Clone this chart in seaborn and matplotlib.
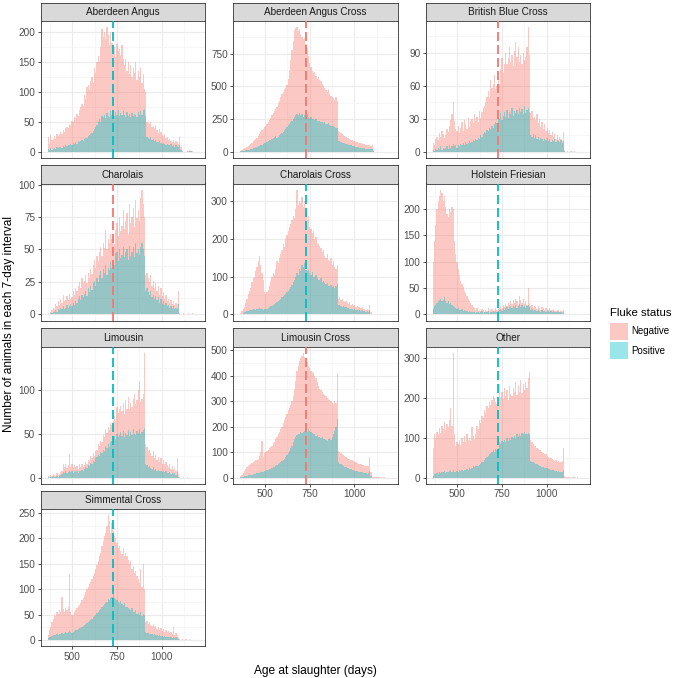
import matplotlib
matplotlib.use("Agg")
import matplotlib.pyplot as plt
from matplotlib.patches import Rectangle
from matplotlib.ticker import MultipleLocator
import numpy as np
import pandas as pd
import seaborn as sns

# ---------------- data ----------------
breeds = ["Aberdeen Angus", "Aberdeen Angus Cross", "British Blue Cross",
          "Charolais", "Charolais Cross", "Holstein Friesian",
          "Limousin", "Limousin Cross", "Other", "Simmental Cross"]
status_levels = ["Negative", "Positive"]
status_colors = ["#F8766D", "#00BFC4"]
bin_start = 361      # days
bin_width = 7        # days
n_bins = 120

neg_aa = [25,14,28,20,22,27,22,30,26,30,34,30,37,34,40,
          42,40,47,45,52,50,58,56,64,60,70,
          75,80,76,95,88,108,112,
          104,118,125,115,140,132,150,
          160,150,175,205,192,200,
          188,208,196,178,200,182,165,
          175,158,180,168,172,162,178,155,
          145,155,135,150,130,145,125,140,132,150,
          120,135,126,140,115,130,105,100,50,
          48,46,50,42,43,40,45,36,32,38,33,29,26,30,23,25,
          20,22,18,16,20,15,18,16,13,25,8,
          1,0,0,0,2,1,3,2,1,0,0,0,0]
pos_aa = [5,3,6,4,5,7,5,8,6,8,9,7,10,9,11,
          10,12,11,14,12,15,13,16,14,18,17,
          19,20,18,22,24,23,26,
          28,30,32,35,38,42,45,
          50,55,50,60,58,62,
          57,65,60,58,68,62,65,
          60,66,62,70,60,65,61,68,
          62,59,66,60,64,58,65,60,63,62,
          59,66,62,68,61,70,72,60,25,
          24,22,25,20,22,18,20,17,16,18,15,14,15,13,12,14,
          12,11,13,10,12,9,11,10,8,12,4,
          0,0,0,0,1,0,1,1,0,0,0,0,0]

neg_aac = [10,15,20,28,32,40,45,55,62,70,80,88,100,110,125,
           140,150,165,175,190,200,215,230,245,260,280,295,310,330,
           345,370,390,420,440,460,480,490,
           510,560,620,700,780,850,
           930,945,950,920,935,900,880,860,870,
           820,790,730,680,650,620,600,
           610,580,560,570,550,540,520,500,
           490,470,460,480,440,430,420,410,400,420,390,
           160,
           150,145,140,130,125,118,110,105,100,95,90,85,80,78,75,70,68,
           65,62,60,58,55,55,52,50,48,55,15,
           3,2,1,2,1,1,2,1,1,0,1,0,0]
pos_aac = [4,6,8,10,12,14,16,18,22,25,28,32,35,40,42,
           45,50,55,60,65,70,75,82,88,95,100,108,115,122,
           110,118,126,135,145,155,165,175,
           190,205,215,228,240,255,
           270,285,290,280,300,285,290,270,285,
           275,290,270,260,265,250,255,
           245,250,240,235,240,230,225,220,
           225,215,210,220,205,200,195,200,190,185,180,
           85,
           80,75,72,70,65,62,58,55,52,50,48,45,42,40,38,35,33,
           32,30,28,27,26,25,24,23,22,25,6,
           1,1,0,1,0,0,1,0,0,0,0,0,0]

neg_bbc = [8,6,12,14,11,17,14,19,16,13,
           15,21,18,24,29,34,45,28,21,19,24,
           17,22,27,19,29,25,21,31,23,28,
           30,26,34,28,32,27,37,31,36,40,42,
           45,50,55,50,65,58,62,70,57,60,
           68,62,75,85,72,80,
           90,80,85,95,82,88,78,92,100,
           86,95,82,88,80,90,83,86,95,113,88,
           35,
           37,31,32,29,34,26,30,23,27,21,25,19,22,17,20,15,18,
           14,16,12,15,11,14,12,10,18,
           2,0,1,0,0,1,0,0,1,0,0,0,0,0,0]
pos_bbc = [2,1,3,2,4,3,5,2,4,3,
           4,5,3,6,4,5,7,5,6,4,6,
           5,7,6,8,6,9,7,8,10,8,
           9,11,10,12,11,13,12,15,14,16,18,
           17,20,19,22,21,24,22,25,27,26,
           32,30,35,29,33,36,
           32,38,31,36,34,40,33,37,35,
           38,34,40,36,39,34,42,35,38,40,36,
           15,
           14,16,13,15,12,14,11,13,12,10,12,11,13,10,12,9,11,
           10,12,9,11,10,9,11,8,10,
           1,0,0,0,0,0,0,0,0,0,0,0,0,0,0]

neg_ch = [1,0,2,3,5,4,8,6,10,7,
          12,9,15,10,11,14,11,16,12,13,18,15,
          20,18,22,25,20,28,24,26,30,24,32,28,35,31,
          38,42,36,45,41,48,52,45,55,51,65,50,58,
          55,62,58,60,54,65,
          70,60,75,64,68,80,66,72,78,62,85,70,75,82,67,88,74,80,72,90,96,
          85,75,
          30,
          32,28,25,30,22,26,20,24,18,22,15,20,14,17,12,15,10,
          12,9,11,8,10,7,9,8,18,
          1,0,0,1,0,0,0,1,0,0,1,0,0,0,0]
pos_ch = [0,0,1,1,2,2,3,2,4,3,
          5,4,6,4,5,7,5,6,8,6,9,7,
          10,9,12,14,11,15,13,16,18,14,20,17,22,19,
          24,26,22,28,25,30,33,28,35,32,38,30,36,
          34,40,36,42,38,47,
          48,41,50,43,46,52,44,48,50,42,53,45,48,52,44,55,47,50,46,52,55,
          50,45,
          18,
          20,17,15,18,13,15,12,14,11,13,9,12,8,10,7,9,6,
          7,5,6,5,6,4,5,4,8,
          0,0,0,0,0,0,0,0,0,0,0,0,0,0,0]

neg_cc = [3,8,15,20,30,40,55,
          62,70,85,95,100,115,125,140,
          155,130,110,90,
          60,55,58,65,75,88,
          100,110,105,120,140,135,150,160,170,
          185,178,200,210,220,230,240,250,
          260,255,280,330,290,300,295,310,285,300,270,
          250,260,230,225,215,220,200,205,190,185,
          180,175,165,170,155,150,160,145,140,150,130,140,125,120,130,
          40,
          45,38,40,35,32,35,30,28,32,25,27,22,25,20,22,18,20,
          16,18,14,15,12,14,10,25,5,
          2,1,0,1,2,0,1,1,2,0,1,0,0,0,0]
pos_cc = [1,2,3,5,6,8,9,
          10,12,11,13,14,12,15,14,
          16,14,13,12,
          14,13,15,17,19,21,
          23,25,27,30,32,35,38,40,45,
          48,52,55,58,62,68,72,78,
          85,92,100,110,105,120,115,130,125,135,118,
          115,118,110,105,112,100,98,104,95,92,
          90,95,85,88,82,80,84,76,74,78,72,76,70,74,80,
          25,
          24,22,20,21,18,19,17,16,15,14,15,12,13,11,12,10,11,
          9,10,8,9,7,8,6,10,2,
          0,0,0,0,0,0,0,0,0,0,0,0,0,0,0]

neg_hf = [100,140,170,200,215,225,
          237,230,215,225,205,190,
          185,200,195,205,200,140,
          115,100,86,75,63,58,52,45,
          41,35,30,25,22,18,14,12,
          8,12,7,9,6,10,8,5,9,7,11,6,8,10,7,9,12,8,10,
          12,15,10,18,14,20,16,22,18,25,20,28,22,30,25,18,35,28,22,30,20,25,18,50,22,
          15,18,12,16,14,10,15,12,9,14,11,8,12,10,7,11,9,8,10,7,6,9,8,5,7,6,8,
          1,0,0,1,0,0,0,0,0,1,0,0,0,0,0]
pos_hf = [10,15,18,22,25,28,
          30,25,28,32,26,22,
          25,20,22,18,15,14,
          12,10,11,9,8,10,7,8,
          6,7,5,6,4,5,4,5,
          3,4,5,3,4,6,3,4,5,4,6,3,5,4,6,5,7,5,6,
          8,10,7,12,9,11,14,10,13,15,12,16,14,18,12,15,20,14,17,13,16,12,15,18,14,
          8,10,7,9,8,6,9,7,5,8,6,7,5,6,8,5,6,4,7,5,4,6,5,4,5,3,5,
          0,0,0,0,0,0,0,0,0,0,0,0,0,0,0]

neg_lm = [2,1,3,2,4,3,2,5,3,4,6,8,
          15,12,16,11,14,
          27,
          12,15,11,14,12,13,10,15,12,16,12,14,18,
          16,20,19,25,22,28,25,30,
          32,38,36,42,40,48,46,55,51,
          58,54,62,60,65,70,64,
          80,74,78,82,76,85,72,88,78,92,78,85,80,90,95,84,88,100,
          110,86,90,95,142,
          38,
          35,30,32,28,25,30,22,26,20,24,18,22,16,20,15,18,14,
          12,15,10,13,9,11,8,22,4,
          1,0,0,1,0,0,1,0,0,0,0,0,0,0,0]
pos_lm = [1,0,1,1,2,1,1,2,1,2,3,4,
          6,5,7,5,6,
          8,
          6,7,5,8,6,7,5,8,7,9,8,10,12,
          11,14,13,17,15,19,18,22,
          23,26,25,29,28,32,30,36,34,
          38,35,40,42,45,47,44,
          50,46,49,52,47,53,46,51,48,54,47,52,49,55,50,48,53,51,
          55,50,52,54,57,
          15,
          14,12,13,11,10,12,9,10,8,9,7,8,6,7,6,7,5,
          5,6,4,5,4,5,3,6,1,
          0,0,0,0,0,0,0,0,0,0,0,0,0,0,0]

neg_lc = [5,10,18,25,32,40,45,
          50,55,58,62,65,68,
          70,75,85,100,
          145,
          80,95,100,
          105,110,115,120,125,135,140,150,160,170,
          180,190,200,215,225,240,250,265,275,
          285,300,320,350,380,
          420,440,460,470,480,490,475,460,
          455,440,430,420,415,410,400,390,375,360,
          350,345,335,330,325,320,315,310,305,300,295,290,300,295,
          410,
          105,
          100,95,92,88,85,80,78,75,72,70,68,65,62,60,58,55,55,
          52,50,48,46,45,44,45,80,20,
          3,2,2,1,1,2,1,1,0,1,1,0,0,0,0]
pos_lc = [2,3,4,5,6,8,9,
          10,11,12,14,15,16,
          17,18,19,20,
          22,
          21,24,26,
          28,30,32,34,37,40,42,45,48,52,
          56,60,65,70,75,82,88,95,105,
          115,125,140,150,160,
          168,172,170,178,175,180,185,182,
          178,190,185,180,175,170,172,165,168,160,
          158,155,160,150,152,148,145,150,155,148,160,170,185,200,
          230,
          60,
          55,52,48,45,42,40,38,36,34,32,30,28,27,25,24,23,22,
          21,20,19,18,17,16,17,25,5,
          0,0,0,0,0,0,0,0,0,0,0,0,0,0,0]

neg_ot = [75,110,100,
          115,108,125,112,130,122,140,118,135,127,145,
          175,130,
          312,
          110,80,90,
          85,95,82,100,90,105,88,110,95,100,92,127,105,97,110,
          130,122,145,137,155,150,170,162,180,
          175,190,182,195,205,200,190,184,195,
          235,
          200,215,198,225,205,220,195,230,210,205,225,215,240,208,230,215,245,212,235,220,240,225,250,
          265,
          95,88,85,80,78,75,72,70,68,65,62,60,58,55,52,50,48,46,
          44,42,45,40,42,38,40,42,
          75,
          3,2,1,2,1,0,2,1,1,0,1,0,0,0,0]
pos_ot = [5,8,10,
          12,10,14,12,15,13,16,12,15,14,16,
          18,15,20,
          15,14,16,
          15,18,16,20,17,19,18,22,20,24,22,25,28,26,30,
          28,30,32,35,38,40,44,48,52,
          55,60,62,65,68,65,72,70,75,
          90,
          85,92,88,95,90,98,92,100,95,102,98,105,100,108,102,110,105,112,108,115,110,108,112,
          110,
          42,40,38,36,35,33,32,30,28,27,26,25,24,23,22,21,20,19,
          18,17,16,15,16,14,13,15,
          20,
          0,0,0,0,0,0,0,0,0,0,0,0,0,0,0]

neg_sc = [10,20,25,35,42,50,48,55,
          52,58,55,85,60,56,62,58,65,
          130,
          55,50,
          50,55,58,62,66,68,72,78,82,88,95,
          100,105,110,115,120,126,132,140,148,155,
          165,172,185,195,205,210,225,
          245,235,210,
          230,215,205,200,
          190,180,185,175,170,180,165,172,
          165,158,150,155,140,145,132,135,125,120,112,140,105,150,
          100,
          35,
          38,32,35,30,28,32,25,28,22,25,20,23,18,21,16,19,15,
          18,14,16,12,25,10,13,9,5,
          1,0,1,0,0,1,0,0,1,0,0,0,0,0,0]
pos_sc = [3,5,6,8,9,10,9,11,
          10,12,11,14,12,13,15,14,16,
          18,
          15,14,
          16,18,20,19,22,24,23,26,28,30,32,
          34,36,38,40,42,45,48,50,53,56,
          58,60,64,66,70,72,75,
          80,78,82,
          85,90,82,80,
          78,75,72,76,70,68,72,65,
          64,62,60,58,62,56,55,58,52,54,50,55,48,52,
          50,
          15,
          14,13,12,11,12,10,11,9,10,8,9,7,8,6,7,6,5,
          6,5,6,4,6,4,5,3,1,
          0,0,0,0,0,0,0,0,0,0,0,0,0,0,0]

negative_counts = [neg_aa, neg_aac, neg_bbc, neg_ch, neg_cc, neg_hf, neg_lm, neg_lc, neg_ot, neg_sc]
positive_counts = [pos_aa, pos_aac, pos_bbc, pos_ch, pos_cc, pos_hf, pos_lm, pos_lc, pos_ot, pos_sc]

# median age line per breed and which status colour is visible on top
median_age = [727, 727, 726, 727, 729, 726, 727, 729, 727, 727]
median_status = ["Positive", "Negative", "Negative", "Negative", "Positive",
                 "Positive", "Positive", "Negative", "Positive", "Positive"]
y_tick_step = [50, 250, 30, 25, 100, 50, 50, 100, 100, 50]
x_ticks = [500, 750, 1000]
x_label = "Age at slaughter (days)"
y_label = "Number of animals in each 7-day interval"
legend_title = "Fluke status"

# ---------------- build long table ----------------
edges = bin_start + bin_width * np.arange(n_bins + 1)
centers = edges[:-1] + bin_width / 2
frames = []
for b, neg, pos in zip(breeds, negative_counts, positive_counts):
    for st, arr in (("Negative", neg), ("Positive", pos)):
        arr = (list(arr) + [0] * n_bins)[:n_bins]
        frames.append(pd.DataFrame({"breed": b, "status": st, "age": centers,
                                    "count": np.asarray(arr, dtype=float)}))
df = pd.concat(frames, ignore_index=True)

# ---------------- figure ----------------
sns.set_style("white")
plt.rcParams["font.family"] = ["Liberation Sans", "DejaVu Sans"]

W, H = 675, 678
fig = plt.figure(figsize=(W / 100, H / 100), dpi=100)
fig.patch.set_facecolor("white")


def add_px(l, t, w, h):
    return fig.add_axes([l / W, 1 - (t + h) / H, w / W, h / H])


col_left = [40.7, 233.3, 425.7]
panel_w = 164.3
strip_top = [2.7, 165.0, 328.3, 490.7]
strip_h = 18.5
panel_h = 137.0
alpha = 0.4
border = "#333333"
pal = dict(zip(status_levels, status_colors))
bottom_panels = {7, 8, 9}

for k, breed in enumerate(breeds):
    r, c = divmod(k, 3)
    sax = add_px(col_left[c], strip_top[r], panel_w, strip_h)
    sax.set_facecolor("#D9D9D9")
    sax.set_xticks([]); sax.set_yticks([])
    for sp in sax.spines.values():
        sp.set_color(border); sp.set_linewidth(0.6)
    sax.text(0.5, 0.48, breed, ha="center", va="center", fontsize=7.2,
             color="#1A1A1A", transform=sax.transAxes)

    ax = add_px(col_left[c], strip_top[r] + strip_h, panel_w, panel_h)
    sub = df[df["breed"] == breed]
    for st in status_levels:
        sns.histplot(data=sub[sub["status"] == st], x="age", weights="count",
                     binwidth=bin_width, binrange=(float(edges[0]), float(edges[-1])),
                     element="step", fill=True, alpha=alpha,
                     color=pal[st], linewidth=0, ax=ax, legend=False)
    for art in list(ax.collections) + list(ax.patches):
        art.set_edgecolor("none")
    ax.axvline(median_age[k], color=pal[median_status[k]], lw=1.3,
               ls=(0, (5, 2.2)), zorder=5)

    m = max(max(negative_counts[k]), max(positive_counts[k]))
    ax.set_xlim(323, 1241)
    ax.set_ylim(-0.05 * m, 1.05 * m)
    step = y_tick_step[k]
    ax.yaxis.set_major_locator(MultipleLocator(step))
    ax.yaxis.set_minor_locator(MultipleLocator(step / 2))
    ax.set_xticks(x_ticks)
    ax.xaxis.set_minor_locator(MultipleLocator(125))
    ax.set_axisbelow(True)
    ax.grid(which="major", color="#EBEBEB", lw=0.8)
    ax.grid(which="minor", color="#F2F2F2", lw=0.45)
    ax.set_xlabel(""); ax.set_ylabel("")
    for sp in ax.spines.values():
        sp.set_color(border); sp.set_linewidth(0.6); sp.set_visible(True)
    ax.tick_params(axis="y", which="major", length=2.4, width=0.6, color=border,
                   labelsize=7.2, labelcolor="#4D4D4D", pad=1.5, left=True)
    ax.tick_params(which="minor", length=0)
    if k in bottom_panels:
        ax.tick_params(axis="x", which="major", length=2.4, width=0.6, color=border,
                       labelsize=7.2, labelcolor="#4D4D4D", pad=1.5, bottom=True)
    else:
        ax.tick_params(axis="x", which="major", length=0, labelbottom=False)
    ax.set_facecolor("white")

# axis titles
fig.text(315 / W, 1 - 671 / H, x_label, ha="center", va="center", fontsize=8.6, color="black")
fig.text(9 / W, 1 - 324 / H, y_label, ha="center", va="center", rotation=90,
         fontsize=8.6, color="black")

# legend
fig.text(610 / W, 1 - 313 / H, legend_title, ha="left", va="center", fontsize=8.2, color="black")
key_w, key_h = 18, 17
for i, st in enumerate(status_levels):
    top = 323 + i * 19
    fig.patches.append(Rectangle((610 / W, 1 - (top + key_h) / H), key_w / W, key_h / H,
                                 transform=fig.transFigure, facecolor=pal[st],
                                 alpha=alpha, edgecolor="none"))
    fig.text(631 / W, 1 - (top + key_h / 2) / H, st, ha="left", va="center",
             fontsize=7.0, color="black")

fig.savefig("out.png", dpi=100, facecolor="white")
